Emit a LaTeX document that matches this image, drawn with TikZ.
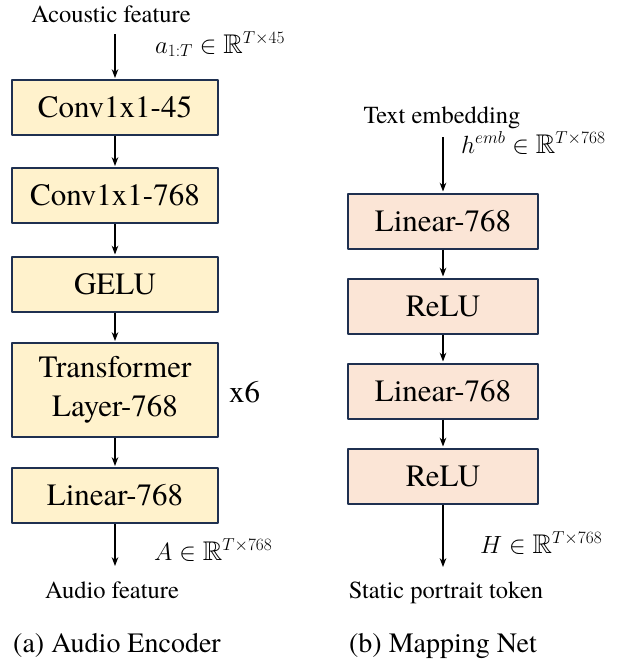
\documentclass[tikz,border=0pt]{standalone}
\usepackage{amssymb}
\usepackage{fontspec}
\setmainfont{texgyretermes}[Extension=.otf,UprightFont=*-regular,BoldFont=*-bold,ItalicFont=*-italic,BoldItalicFont=*-bolditalic]
\usetikzlibrary{arrows.meta,positioning}
\definecolor{boxline}{HTML}{1F3050}
\definecolor{encfill}{HTML}{FFF2CC}
\definecolor{mapfill}{HTML}{FBE5D6}
\begin{document}
\begin{tikzpicture}[x=1pt,y=-1pt,line join=round,>=Stealth,
	encbox/.style={draw=boxline,line width=2pt,fill=encfill,minimum width=206pt,minimum height=55pt,inner sep=0pt,align=center,font=\fontsize{31}{39}\selectfont},
	mapbox/.style={encbox,fill=mapfill,minimum width=190pt},
	lbl/.style={inner sep=0pt,font=\fontsize{24.5}{28}\selectfont},
	mlbl/.style={inner sep=0pt,anchor=base west,font=\fontsize{27}{30}\selectfont},
	flow/.style={->,line width=1.3pt,shorten >=1pt}]
	\useasboundingbox (0,0) rectangle (633,659);
	% audio encoder
	\node[encbox] (c1) at (115,107.5) {Conv1x1-45};
	\node[encbox] (c2) at (115,195.5) {Conv1x1-768};
	\node[encbox] (gelu) at (115,284) {GELU};
	\node[encbox,minimum height=94pt] (tf) at (115,390) {Transformer\\Layer-768};
	\node[encbox] (lin) at (115,495.5) {Linear-768};
	\node[lbl,anchor=base west,font=\fontsize{31}{36}\selectfont] (rep) at (229,402) {x6};
	\node[lbl,anchor=base] (acin) at (111,22) {Acoustic feature};
	\node[lbl,anchor=base] (auout) at (112,598) {Audio feature};
	\node[lbl,anchor=base,font=\fontsize{28}{32}\selectfont] (capa) at (117,652) {(a) Audio Encoder};
	\coordinate (ain) at (115,34);
	\coordinate (aout) at (115,567);
	\node[mlbl] (adim) at (155,53) {$a_{1:T}\in\mathbb{R}^{T\times45}$};
	\node[mlbl] (Adim) at (154,560) {$A\in\mathbb{R}^{T\times768}$};
	% mapping net
	\node[mapbox] (l1) at (443,221) {Linear-768};
	\node[mapbox] (r1) at (443,306) {ReLU};
	\node[mapbox] (l2) at (443,391) {Linear-768};
	\node[mapbox] (r2) at (443,476) {ReLU};
	\node[lbl,anchor=base] (txin) at (442,123) {Text embedding};
	\node[lbl,anchor=base] (spout) at (446,598) {Static portrait token};
	\node[lbl,anchor=base,font=\fontsize{28}{32}\selectfont] (capb) at (443,652) {(b) Mapping Net};
	\coordinate (bin) at (443,137);
	\coordinate (bout) at (443,568);
	\node[mlbl] (hdim) at (461,153) {$h^{emb}\in\mathbb{R}^{T\times768}$};
	\node[mlbl] (Hdim) at (480,553) {$H\in\mathbb{R}^{T\times768}$};
	% arrows
	\foreach \a/\b in {ain/c1,c1/c2,c2/gelu,gelu/tf,tf/lin,lin/aout,bin/l1,l1/r1,r1/l2,l2/r2,r2/bout}{
		\draw[flow] (\a)--(\b);
	};
\end{tikzpicture}
\end{document}
